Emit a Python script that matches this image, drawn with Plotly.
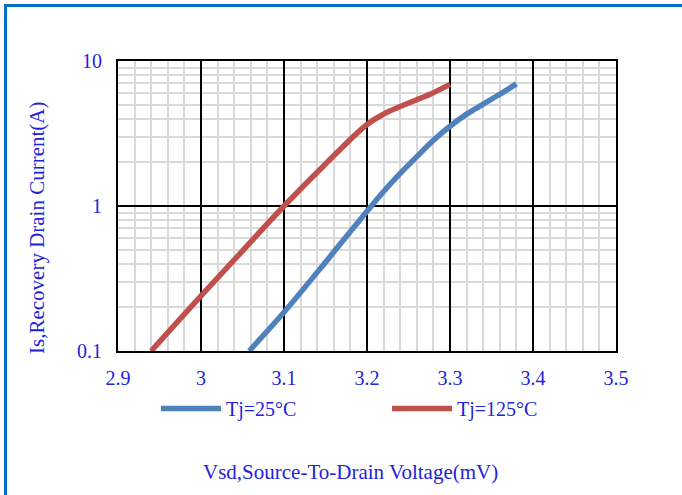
import plotly.graph_objects as go

vsd_25 = [3.058, 3.10, 3.15, 3.20, 3.22, 3.24, 3.26, 3.28, 3.30, 3.32, 3.34, 3.36, 3.38]
is_25 = [0.10, 0.185, 0.41, 0.92, 1.26, 1.68, 2.19, 2.84, 3.55, 4.3, 5.05, 5.9, 6.95]
vsd_125 = [2.94, 3.00, 3.05, 3.10, 3.15, 3.20, 3.22, 3.24, 3.26, 3.28, 3.30]
is_125 = [0.10, 0.24, 0.49, 1.00, 1.95, 3.65, 4.3, 4.85, 5.4, 6.05, 6.9]
name_25 = "Tj=25°C"
name_125 = "Tj=125°C"
x_ticks = [2.9, 3.0, 3.1, 3.2, 3.3, 3.4, 3.5]
x_ticktext = ["2.9", "3", "3.1", "3.2", "3.3", "3.4", "3.5"]
y_ticks = [0.1, 1, 10]
y_ticktext = ["0.1", "1", "10"]

FONT = "Liberation Serif, Times New Roman, serif"
TXT = "#2222dd"
W, H = 682, 495
L, R, T, B = 118, 66, 61, 144
PW, PH = W - L - R, H - T - B

fig = go.Figure()
fig.add_trace(go.Scatter(x=vsd_25, y=is_25, mode="lines", name=name_25,
                         line=dict(color="#4F81BD", width=5.5, shape="spline", smoothing=0.8)))
fig.add_trace(go.Scatter(x=vsd_125, y=is_125, mode="lines", name=name_125,
                         line=dict(color="#C0504D", width=5.5, shape="spline", smoothing=1.0)))

def px_x(p):
    return (p - L) / PW

def px_y(p):
    return (H - B - p) / PH

fig.update_layout(
    width=W, height=H,
    margin=dict(l=L, r=R, t=T, b=B),
    paper_bgcolor="white", plot_bgcolor="white",
    font=dict(family=FONT, color=TXT, size=20),
    showlegend=True,
    legend=dict(orientation="h", x=px_x(156), y=px_y(389), xanchor="left", yanchor="top",
                entrywidth=156, entrywidthmode="pixels", itemwidth=60,
                font=dict(family=FONT, size=20, color=TXT), bgcolor="rgba(0,0,0,0)",
                tracegroupgap=0),
    xaxis=dict(range=[2.9, 3.5], tickvals=x_ticks, ticktext=x_ticktext,
               showgrid=True, gridcolor="black", gridwidth=1.7,
               showline=True, linecolor="black", linewidth=1.8, mirror=True,
               ticks="", zeroline=False, ticklabelstandoff=8,
               minor=dict(dtick=0.02, showgrid=True, gridcolor="#d9d9d9", gridwidth=1.5, ticks="")),
    yaxis=dict(type="log", range=[-1, 1], tickvals=y_ticks, ticktext=y_ticktext,
               showgrid=True, gridcolor="black", gridwidth=1.7,
               showline=True, linecolor="black", linewidth=1.8, mirror=True,
               ticks="", zeroline=False, ticklabelstandoff=10,
               minor=dict(dtick="D1", showgrid=True, gridcolor="#d9d9d9", gridwidth=1.5, ticks="")),
    annotations=[
        dict(text="Vsd,Source-To-Drain Voltage(mV)", xref="paper", yref="paper",
             x=px_x(350), y=px_y(472), showarrow=False, xanchor="center", yanchor="middle",
             font=dict(family=FONT, size=21, color=TXT)),
        dict(text="Is,Recovery Drain Current(A)", xref="paper", yref="paper",
             x=px_x(37), y=px_y(228), showarrow=False, textangle=-90,
             xanchor="center", yanchor="middle",
             font=dict(family=FONT, size=21, color=TXT)),
    ],
    shapes=[
        dict(type="line", xref="paper", yref="paper", x0=px_x(5.5), x1=px_x(5.5),
             y0=px_y(4), y1=px_y(500), line=dict(color="#0070C0", width=3)),
        dict(type="line", xref="paper", yref="paper", x0=px_x(4), x1=px_x(690),
             y0=px_y(5.5), y1=px_y(5.5), line=dict(color="#0070C0", width=3)),
    ],
)

fig.write_html("out.html", config={"displayModeBar": False},
               post_script="document.body.style.margin='0px';document.body.style.overflow='hidden';")
